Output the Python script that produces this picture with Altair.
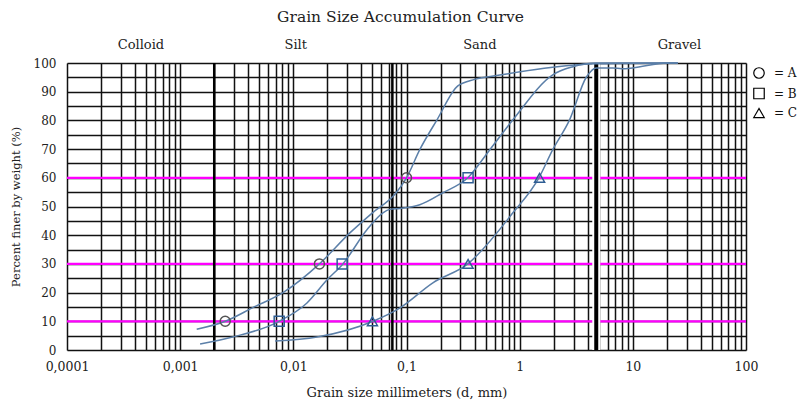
import altair as alt
import pandas as pd

# ---- data ----
series = ["A", "B", "C"]

a_size = [0.0014, 0.0025, 0.0045, 0.0081, 0.017, 0.0316, 0.05, 0.08, 0.1, 0.131, 0.186, 0.284, 0.4, 0.668, 1.96, 4.75, 25]
a_pct = [7.2, 10, 15, 20, 30, 40.8, 47.8, 54.5, 60, 69.8, 80.2, 92.0, 94.3, 95.8, 98.5, 99.7, 100]

b_size = [0.0015, 0.0029, 0.0075, 0.0132, 0.0198, 0.0274, 0.0447, 0.0619, 0.0713, 0.087, 0.131, 0.21, 0.348, 0.545, 0.871, 1.96, 2.95, 4.75, 25]
b_pct = [2.1, 4.5, 10, 16.4, 24.4, 30, 41.9, 47.8, 49.0, 49.3, 50.6, 54.8, 60, 69.8, 80.2, 95.9, 98.7, 100, 100]

c_size = [0.0069, 0.0162, 0.0505, 0.087, 0.171, 0.348, 0.871, 1.48, 1.96, 2.76, 3.9, 4.75, 6.65, 8.0, 10, 20, 25]
c_pct = [3.1, 4.5, 10, 14.6, 23.4, 30, 47.8, 60, 69.8, 80.2, 95.2, 98.3, 98.3, 98.0, 98.3, 100, 100]

marker_pct = [10, 30, 60]
a_marks = [0.0025, 0.017, 0.1]
b_marks = [0.0075, 0.027, 0.35]
c_marks = [0.05, 0.35, 1.5]

magenta_levels = [10, 30, 60]
boundaries = [0.002, 0.075, 4.75]
boundary_widths = {0.002: 2.5, 0.075: 2.5, 4.75: 4}

zones = ["Colloid", "Silt", "Sand", "Gravel"]
zone_x = [0.00045, 0.0105, 0.445, 25.8]
zone_y = 106.4

tick_values = [0.0001, 0.001, 0.01, 0.1, 1, 10, 100]
tick_labels = ["0,0001", "0,001", "0,01", "0,1", "1", "10", "100"]

# ---- tables ----
curves = pd.concat([
    pd.DataFrame({"x": a_size, "y": a_pct, "series": "A"}),
    pd.DataFrame({"x": b_size, "y": b_pct, "series": "B"}),
    pd.DataFrame({"x": c_size, "y": c_pct, "series": "C"}),
])
markers = pd.concat([
    pd.DataFrame({"x": a_marks, "y": marker_pct, "series": "A"}),
    pd.DataFrame({"x": b_marks, "y": marker_pct, "series": "B"}),
    pd.DataFrame({"x": c_marks, "y": marker_pct, "series": "C"}),
])
grid_x = [m * 10 ** d for d in range(-4, 2) for m in range(1, 10)] + [100]
grid_y = list(range(0, 101, 5))

FONT = "DejaVu Serif"
x_label_expr = "+".join(
    f"(abs(datum.value - {v}) < {v}*1e-6 ? '{l}' : '')" for v, l in zip(tick_values, tick_labels)
)

xscale = alt.Scale(type="log", domain=[0.0001, 100], nice=False)
yscale = alt.Scale(domain=[0, 100], nice=False, zero=False)
shape_scale = alt.Scale(domain=series, range=["circle", "square", "triangle-up"])

xaxis = alt.Axis(
    values=grid_x, labelExpr=x_label_expr, labelOverlap=False, labelFlush=False,
    ticks=False, domain=False,
    grid=True, gridColor="#111111", gridWidth=1.5, gridOpacity=1,
    labelFont=FONT, labelFontSize=12.5, labelColor="#222", labelPadding=10,
    title="Grain size millimeters (d, mm)", titleFont=FONT, titleFontSize=13,
    titleFontWeight="normal", titleColor="#222", titlePadding=14,
)
yaxis = alt.Axis(
    values=grid_y, labelExpr="datum.value % 10 == 0 ? datum.label : ''", labelOverlap=False,
    labelFlush=False, ticks=False, domain=False,
    grid=True, gridColor="#111111", gridWidth=1.5, gridOpacity=1,
    labelFont=FONT, labelFontSize=12, labelColor="#222", labelPadding=11,
    title="Percent finer by weight (%)", titleFont=FONT, titleFontSize=11.5,
    titleFontWeight="normal", titleColor="#222", titlePadding=12,
)

X = alt.X("x:Q", scale=xscale, axis=xaxis)
Y = alt.Y("y:Q", scale=yscale, axis=yaxis)

magenta = alt.Chart(pd.DataFrame({"y": magenta_levels})).mark_rule(
    color="#ff00ff", strokeWidth=2.2
).encode(y=Y)

bdf = pd.DataFrame({"x": boundaries, "w": [boundary_widths[b] for b in boundaries]})
halo = alt.Chart(bdf[bdf.x == 4.75]).mark_rule(color="white", strokeWidth=8).encode(x=X)
thick = alt.Chart(bdf).mark_rule(color="black").encode(
    x=X, strokeWidth=alt.StrokeWidth("w:Q", scale=None, legend=None)
)

lines = alt.Chart(curves).mark_line(
    interpolate="monotone", color="#5b7fa8", strokeWidth=1.5, clip=False
).encode(x=X, y=Y, detail="series:N")

legend_layer = alt.Chart(markers).mark_point(
    filled=False, size=0, strokeWidth=1.2, color="black", opacity=1
).encode(
    x=X, y=Y,
    shape=alt.Shape(
        "series:N", scale=shape_scale,
        legend=alt.Legend(
            title=None, orient="none", legendX=686, legendY=4, padding=0,
            labelExpr="'=  ' + datum.label", labelFont=FONT, labelFontSize=12,
            labelColor="#111", symbolStrokeColor="black", symbolFillColor="transparent",
            symbolSize=110, symbolStrokeWidth=1.2, symbolOpacity=1,
            labelOffset=9, rowPadding=4.5,
        ),
    ),
)

pts_a = alt.Chart(markers[markers.series == "A"]).mark_point(
    filled=False, size=100, strokeWidth=1.5, opacity=1, color="#555555"
).encode(x=X, y=Y, shape=alt.Shape("series:N", scale=shape_scale, legend=None))

pts_bc = alt.Chart(markers[markers.series != "A"]).mark_point(
    filled=False, size=100, strokeWidth=1.5, opacity=1, color="#2e5d93"
).encode(x=X, y=Y, shape=alt.Shape("series:N", scale=shape_scale, legend=None))

zone_text = alt.Chart(pd.DataFrame({"x": zone_x, "y": zone_y, "t": zones})).mark_text(
    font=FONT, fontSize=13, color="#222", baseline="middle"
).encode(x=X, y=Y, text="t:N")

chart = alt.layer(legend_layer, magenta, halo, thick, lines, pts_a, pts_bc, zone_text).properties(
    width=679, height=287,
    padding={"left": 67, "top": 63, "right": 53, "bottom": 53},
    autosize=alt.AutoSizeParams(type="none"),
    title=alt.Title(
        "Grain Size Accumulation Curve", font=FONT, fontSize=15.5, fontWeight="normal",
        color="#222", frame="group", anchor="middle", offset=13, dx=-6,
    ),
).configure_view(stroke=None).configure(background="white")

chart.save("out.html", embed_options={"renderer": "svg", "actions": False})
